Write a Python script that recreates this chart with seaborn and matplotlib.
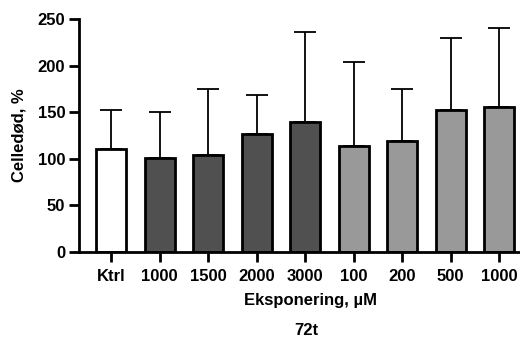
import matplotlib
matplotlib.use("Agg")
import matplotlib.pyplot as plt
import seaborn as sns
import pandas as pd
import numpy as np

labels = ["Ktrl", "1000", "1500", "2000", "3000", "100", "200", "500", "1000"]
groups = ["ktrl", "a1000", "a1500", "a2000", "a3000", "b100", "b200", "b500", "b1000"]
means = [110.5, 101, 104, 126.5, 139.5, 113.5, 119, 152, 155.5]
upper = [152, 150, 175, 168, 236, 204, 175, 230, 240]
colors = ["#ffffff", "#505050", "#505050", "#505050", "#505050",
          "#999999", "#999999", "#999999", "#999999"]

df = pd.DataFrame({"gruppe": groups, "celledod": means})

sns.set_theme(style="ticks", rc={
    "text.color": "black", "axes.labelcolor": "black", "axes.edgecolor": "black",
    "xtick.color": "black", "ytick.color": "black",
})
plt.rcParams["font.family"] = ["Liberation Sans", "DejaVu Sans"]
plt.rcParams["font.weight"] = "bold"

fig = plt.figure(figsize=(5.2, 3.4), dpi=100)
ax = fig.add_axes([0.152, 0.259, 0.848, 0.685])

sns.barplot(data=df, x="gruppe", y="celledod", hue="gruppe",
            palette=dict(zip(groups, colors)), legend=False,
            width=0.62, edgecolor="black", linewidth=2, ax=ax, zorder=2)

x = np.arange(len(groups))
err = np.array(upper) - np.array(means)
ax.errorbar(x, means, yerr=[np.zeros_like(err), err], fmt="none",
            ecolor="black", elinewidth=1.3, capsize=8, capthick=1.3, zorder=1)

ax.set_xlim(-0.66, 8.43)
ax.set_ylim(0, 250)
ax.set_yticks([0, 50, 100, 150, 200, 250])
ax.set_xticks(x)
ax.set_xticklabels(labels)
for s in ["top", "right"]:
    ax.spines[s].set_visible(False)
for s in ["left", "bottom"]:
    ax.spines[s].set_linewidth(2)
ax.tick_params(axis="both", length=7, width=2, labelsize=12)
ax.tick_params(axis="x", pad=5)
ax.tick_params(axis="y", pad=3)
for t in ax.get_xticklabels() + ax.get_yticklabels():
    t.set_fontweight("bold")
ax.set_ylabel("Celledød, %", fontsize=12, fontweight="bold", labelpad=8)
ax.set_xlabel("Eksponering, µM", fontsize=12, fontweight="bold", labelpad=7)
ax.xaxis.set_label_coords(0.526, -0.175)
fig.text(0.59, 0.027, "72t", ha="center", va="center", fontsize=12, fontweight="bold")

fig.savefig("out.png", dpi=100)
